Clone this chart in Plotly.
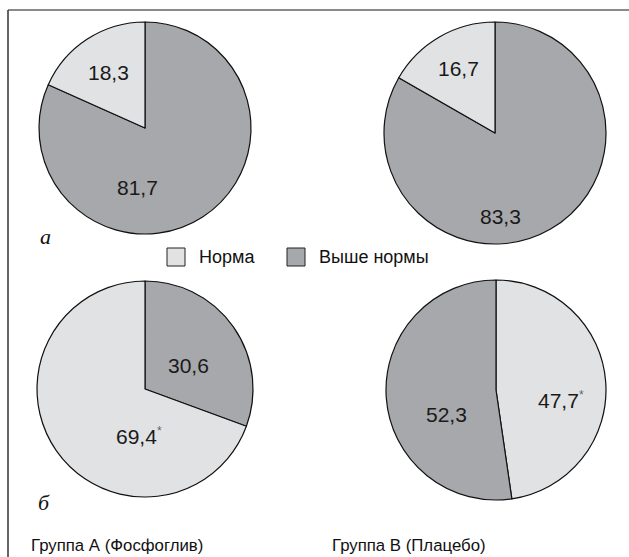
import plotly.graph_objects as go

# Categories and values (percent of patients)
categories = ["Норма", "Выше нормы"]
groups = ["Группа А (Фосфоглив)", "Группа В (Плацебо)"]
panels = ["а", "б"]

norma_a = [18.3, 16.7]      # panel а, groups A and B
above_a = [81.7, 83.3]
norma_b = [69.4, 47.7]      # panel б, groups A and B
above_b = [30.6, 52.3]
norma_b_signif = [True, True]

colors = {"Норма": "#e1e2e4", "Выше нормы": "#a7a8ab"}

W, H = 629, 557


def px(x, y):
    return x / W, 1 - y / H


def dom(cx, cy, r):
    x0, y1 = px(cx - r, cy - r)
    x1, y0 = px(cx + r, cy + r)
    return dict(x=[x0, x1], y=[y0, y1])


def fmt(v):
    return f"{v:.1f}".replace(".", ",")


# each pie: centre x, centre y, radius, slice order (clockwise from 12 o'clock)
pies = [
    (145, 128, 106, ["Выше нормы", "Норма"], {"Норма": norma_a[0], "Выше нормы": above_a[0]}),
    (495, 133, 111, ["Выше нормы", "Норма"], {"Норма": norma_a[1], "Выше нормы": above_a[1]}),
    (145, 389, 108, ["Выше нормы", "Норма"], {"Норма": norma_b[0], "Выше нормы": above_b[0]}),
    (496, 390, 110, ["Норма", "Выше нормы"], {"Норма": norma_b[1], "Выше нормы": above_b[1]}),
]

fig = go.Figure()
for cx, cy, r, order, vals in pies:
    fig.add_trace(go.Pie(
        labels=order,
        values=[vals[k] for k in order],
        sort=False,
        direction="clockwise",
        rotation=0,
        marker=dict(colors=[colors[k] for k in order],
                    line=dict(color="#111111", width=1.2)),
        textinfo="none",
        hoverinfo="label+value",
        showlegend=False,
        domain=dom(cx, cy, r),
    ))

annotations = []
num_font = dict(family="Liberation Sans, Arial, sans-serif", size=21, color="#1a1a1a")
star = "<sup><span style='font-size:12px;color:#666'>*</span></sup>"

# value labels: (x, y, value, significant)
value_labels = [
    (108, 72, norma_a[0], False), (137, 187, above_a[0], False),
    (458, 68, norma_a[1], False), (500, 217, above_a[1], False),
    (188, 365, above_b[0], False), (139, 436, norma_b[0], norma_b_signif[0]),
    (447, 414, above_b[1], False), (561, 400, norma_b[1], norma_b_signif[1]),
]
for x, y, v, s in value_labels:
    xp, yp = px(x, y)
    annotations.append(dict(
        x=xp, y=yp, xref="paper", yref="paper", showarrow=False,
        text=fmt(v) + (star if s else ""), font=num_font,
        xanchor="center", yanchor="middle",
    ))

# panel letters
for (x, y), letter in zip([(45, 236), (44, 502)], panels):
    xp, yp = px(x, y)
    annotations.append(dict(
        x=xp, y=yp, xref="paper", yref="paper", showarrow=False,
        text=f"<i>{letter}</i>",
        font=dict(family="Liberation Serif, DejaVu Serif, serif", size=22, color="#111111"),
        xanchor="center", yanchor="middle",
    ))

# group captions
for (x, y), g in zip([(117, 545), (409, 545)], groups):
    xp, yp = px(x, y)
    annotations.append(dict(
        x=xp, y=yp, xref="paper", yref="paper", showarrow=False, text=g,
        font=dict(family="Liberation Sans, Arial, sans-serif", size=16.8, color="#111111"),
        xanchor="center", yanchor="middle",
    ))

shapes = []
# legend swatches and text
legend_items = [(167, 197), (287, 317)]
for (sx, tx), cat in zip(legend_items, categories):
    x0, y1 = px(sx, 248)
    x1, y0 = px(sx + 18, 266)
    shapes.append(dict(type="rect", xref="paper", yref="paper",
                       x0=x0, x1=x1, y0=y0, y1=y1,
                       fillcolor=colors[cat], line=dict(color="#222222", width=1)))
    xp, yp = px(tx, 257)
    annotations.append(dict(
        x=xp, y=yp, xref="paper", yref="paper", showarrow=False, text=cat,
        font=dict(family="Liberation Sans, Arial, sans-serif", size=18, color="#111111"),
        xanchor="left", yanchor="middle",
    ))

# frame lines (top and left)
tx0, ty = px(8, 10)
shapes.append(dict(type="line", xref="paper", yref="paper",
                   x0=tx0, x1=1, y0=ty, y1=ty, line=dict(color="#8a8a8a", width=2)))
shapes.append(dict(type="line", xref="paper", yref="paper",
                   x0=tx0, x1=tx0, y0=0, y1=ty, line=dict(color="#333333", width=1.5)))

fig.update_layout(
    width=W, height=H,
    margin=dict(l=0, r=0, t=0, b=0),
    paper_bgcolor="white", plot_bgcolor="white",
    annotations=annotations, shapes=shapes,
    showlegend=False,
)

fig.write_html("out.html")
